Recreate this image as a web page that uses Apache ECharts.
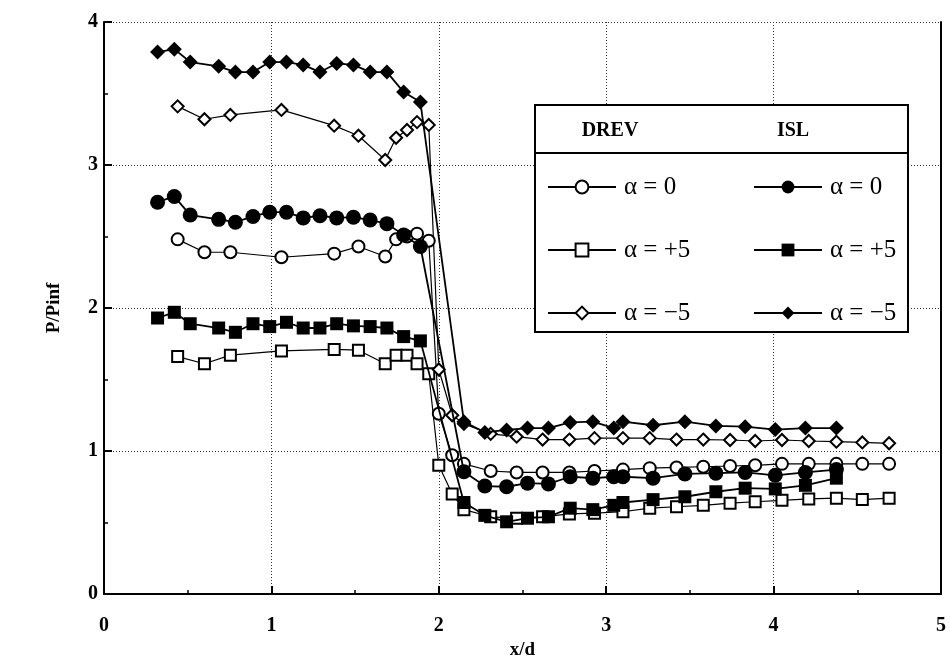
<!DOCTYPE html>
<html><head><meta charset="utf-8">
<script src="https://cdn.jsdelivr.net/npm/echarts/dist/echarts.min.js"></script>
<style>html,body{margin:0;padding:0;background:#fff}#c{width:950px;height:659px}</style>
</head><body><div id="c"></div>
<script>
// ---- data ----
const drevX = [0.44,0.60,0.755,1.06,1.375,1.52,1.68,1.745,1.81,1.87,1.94,2.00,2.08,2.15,2.31,2.465,2.62,2.78,2.93,3.10,3.26,3.42,3.58,3.74,3.89,4.05,4.21,4.375,4.53,4.69];
const drevA0 = [2.48,2.39,2.39,2.355,2.38,2.43,2.36,2.48,2.50,2.52,2.47,1.26,0.97,0.91,0.86,0.85,0.85,0.85,0.86,0.87,0.88,0.885,0.89,0.895,0.90,0.91,0.91,0.91,0.91,0.91];
const drevAP5 = [1.66,1.61,1.67,1.70,1.71,1.705,1.61,1.67,1.67,1.61,1.54,0.90,0.70,0.59,0.54,0.53,0.54,0.56,0.565,0.575,0.60,0.61,0.62,0.635,0.645,0.655,0.665,0.67,0.66,0.67];
const drevAM5 = [3.41,3.32,3.35,3.385,3.275,3.205,3.035,3.19,3.245,3.30,3.28,1.57,1.25,1.19,1.12,1.10,1.08,1.08,1.09,1.09,1.09,1.08,1.08,1.077,1.07,1.077,1.07,1.065,1.06,1.054];

const islX = [0.32,0.42,0.515,0.685,0.785,0.89,0.99,1.09,1.19,1.29,1.39,1.49,1.59,1.69,1.79,1.89,2.15,2.275,2.405,2.53,2.655,2.785,2.92,3.045,3.10,3.28,3.47,3.655,3.83,4.01,4.19,4.375];
const islA0 = [2.74,2.78,2.65,2.62,2.60,2.64,2.67,2.67,2.63,2.645,2.63,2.635,2.615,2.59,2.51,2.43,0.855,0.755,0.75,0.775,0.77,0.82,0.81,0.82,0.82,0.81,0.84,0.845,0.85,0.83,0.85,0.87];
const islAP5 = [1.93,1.97,1.89,1.86,1.83,1.89,1.87,1.90,1.86,1.86,1.89,1.875,1.87,1.86,1.80,1.77,0.64,0.55,0.505,0.53,0.54,0.60,0.59,0.62,0.64,0.66,0.68,0.715,0.74,0.735,0.76,0.81];
const islAM5 = [3.79,3.81,3.72,3.69,3.65,3.65,3.72,3.72,3.70,3.65,3.71,3.70,3.65,3.65,3.51,3.44,1.205,1.13,1.147,1.16,1.16,1.20,1.205,1.16,1.205,1.18,1.205,1.175,1.17,1.15,1.16,1.16];

const xTicks = [0,1,2,3,4,5];
const yTicks = [0,1,2,3,4];
const drevNames = ['DREV|α = 0','DREV|α = +5','DREV|α = −5'];
const islNames = ['ISL|α = 0','ISL|α = +5','ISL|α = −5'];

// ---- build ----
function pairs(xs, ys){ return xs.map((x,i)=>[x, ys[i]]); }
const SERIF = '"Liberation Serif","DejaVu Serif",serif';

function drevSeries(name, ys, sym, size){
  return {name, type:'line', data:pairs(drevX, ys), symbol:sym, symbolSize:size,
    showSymbol:true, z:2,
    lineStyle:{color:'#000', width:1.2}, itemStyle:{color:'#000', borderWidth:1.5}};
}
function islSeries(name, ys, sym, size){
  return {name, type:'line', data:pairs(islX, ys), symbol:sym, symbolSize:size,
    showSymbol:true, z:3,
    lineStyle:{color:'#000', width:1.8}, itemStyle:{color:'#000'}};
}

const series = [
  drevSeries(drevNames[0], drevA0, 'emptyCircle', 12),
  drevSeries(drevNames[1], drevAP5, 'emptyRect', 11),
  drevSeries(drevNames[2], drevAM5, 'emptyDiamond', 12),
  islSeries(islNames[0], islA0, 'circle', 15),
  islSeries(islNames[1], islAP5, 'rect', 13),
  islSeries(islNames[2], islAM5, 'diamond', 15)
];

const rowY = [182, 245, 308];
const legends = [];
function addLegend(name, left, top){
  legends.push({data:[name], left, top, padding:0, itemWidth:68, itemHeight:16, itemGap:0,
    selectedMode:false, z:6,
    formatter: n => n.split('|')[1],
    textStyle:{fontFamily:SERIF, fontSize:25, color:'#000', lineHeight:26, padding:[0,0,0,3]}});
}
drevNames.forEach((n,i)=>addLegend(n, 547, rowY[i]-8));
islNames.forEach((n,i)=>addLegend(n, 753, rowY[i]-8));

const axisLabelStyle = {fontFamily:SERIF, fontWeight:'bold', fontSize:20, color:'#000'};

const option = {
  animation:false,
  backgroundColor:'#fff',
  grid:{left:104, right:9, top:22, bottom:65, containLabel:false, outerBoundsMode:'none'},
  xAxis:{type:'value', min:xTicks[0], max:xTicks[xTicks.length-1], interval:1,
    name:'x/d', nameLocation:'middle', nameGap:40,
    nameTextStyle:{fontFamily:SERIF, fontWeight:'bold', fontSize:19, color:'#000'},
    axisLine:{show:true, onZero:false, lineStyle:{color:'#000', width:2}},
    axisTick:{show:true, inside:true, length:8, lineStyle:{color:'#000', width:2}},
    minorTick:{show:true, splitNumber:2, length:4, lineStyle:{color:'#000', width:1.5}},
    axisLabel:Object.assign({margin:22}, axisLabelStyle),
    splitLine:{show:true, lineStyle:{color:'#333', width:1, type:[1,2]}}},
  yAxis:[{type:'value', min:yTicks[0], max:yTicks[yTicks.length-1], interval:1,
    name:'P/Pinf', nameLocation:'middle', nameGap:40, nameRotate:90,
    nameTextStyle:{fontFamily:SERIF, fontWeight:'bold', fontSize:19, color:'#000'},
    axisLine:{show:true, onZero:false, lineStyle:{color:'#000', width:2}},
    axisTick:{show:true, inside:true, length:8, lineStyle:{color:'#000', width:2}},
    minorTick:{show:true, splitNumber:2, length:4, lineStyle:{color:'#000', width:1.5}},
    axisLabel:Object.assign({margin:6}, axisLabelStyle),
    splitLine:{show:true, lineStyle:{color:'#333', width:1, type:[1,2]}}},
   {type:'value', min:yTicks[0], max:yTicks[yTicks.length-1], position:'right',
    axisLine:{show:true, onZero:false, lineStyle:{color:'#000', width:2}},
    axisTick:{show:false}, axisLabel:{show:false}, splitLine:{show:false}}],
  legend: legends,
  graphic:[
    {type:'rect', z:4, shape:{x:535, y:105, width:373, height:227},
      style:{fill:'#fff', stroke:'#000', lineWidth:2}},
    {type:'line', z:5, shape:{x1:535, y1:153, x2:908, y2:153},
      style:{stroke:'#000', lineWidth:2}},
    {type:'text', z:5, x:610, y:131,
      style:{text:'DREV', font:'bold 20px "Liberation Serif"', fill:'#000', align:'center', verticalAlign:'middle', textAlign:'center', textVerticalAlign:'middle'}},
    {type:'text', z:5, x:793, y:131,
      style:{text:'ISL', font:'bold 20px "Liberation Serif"', fill:'#000', align:'center', verticalAlign:'middle', textAlign:'center', textVerticalAlign:'middle'}}
  ],
  series
};
const chart = echarts.init(document.getElementById('c'), null, {renderer:'canvas'});
chart.setOption(option);
</script></body></html>
